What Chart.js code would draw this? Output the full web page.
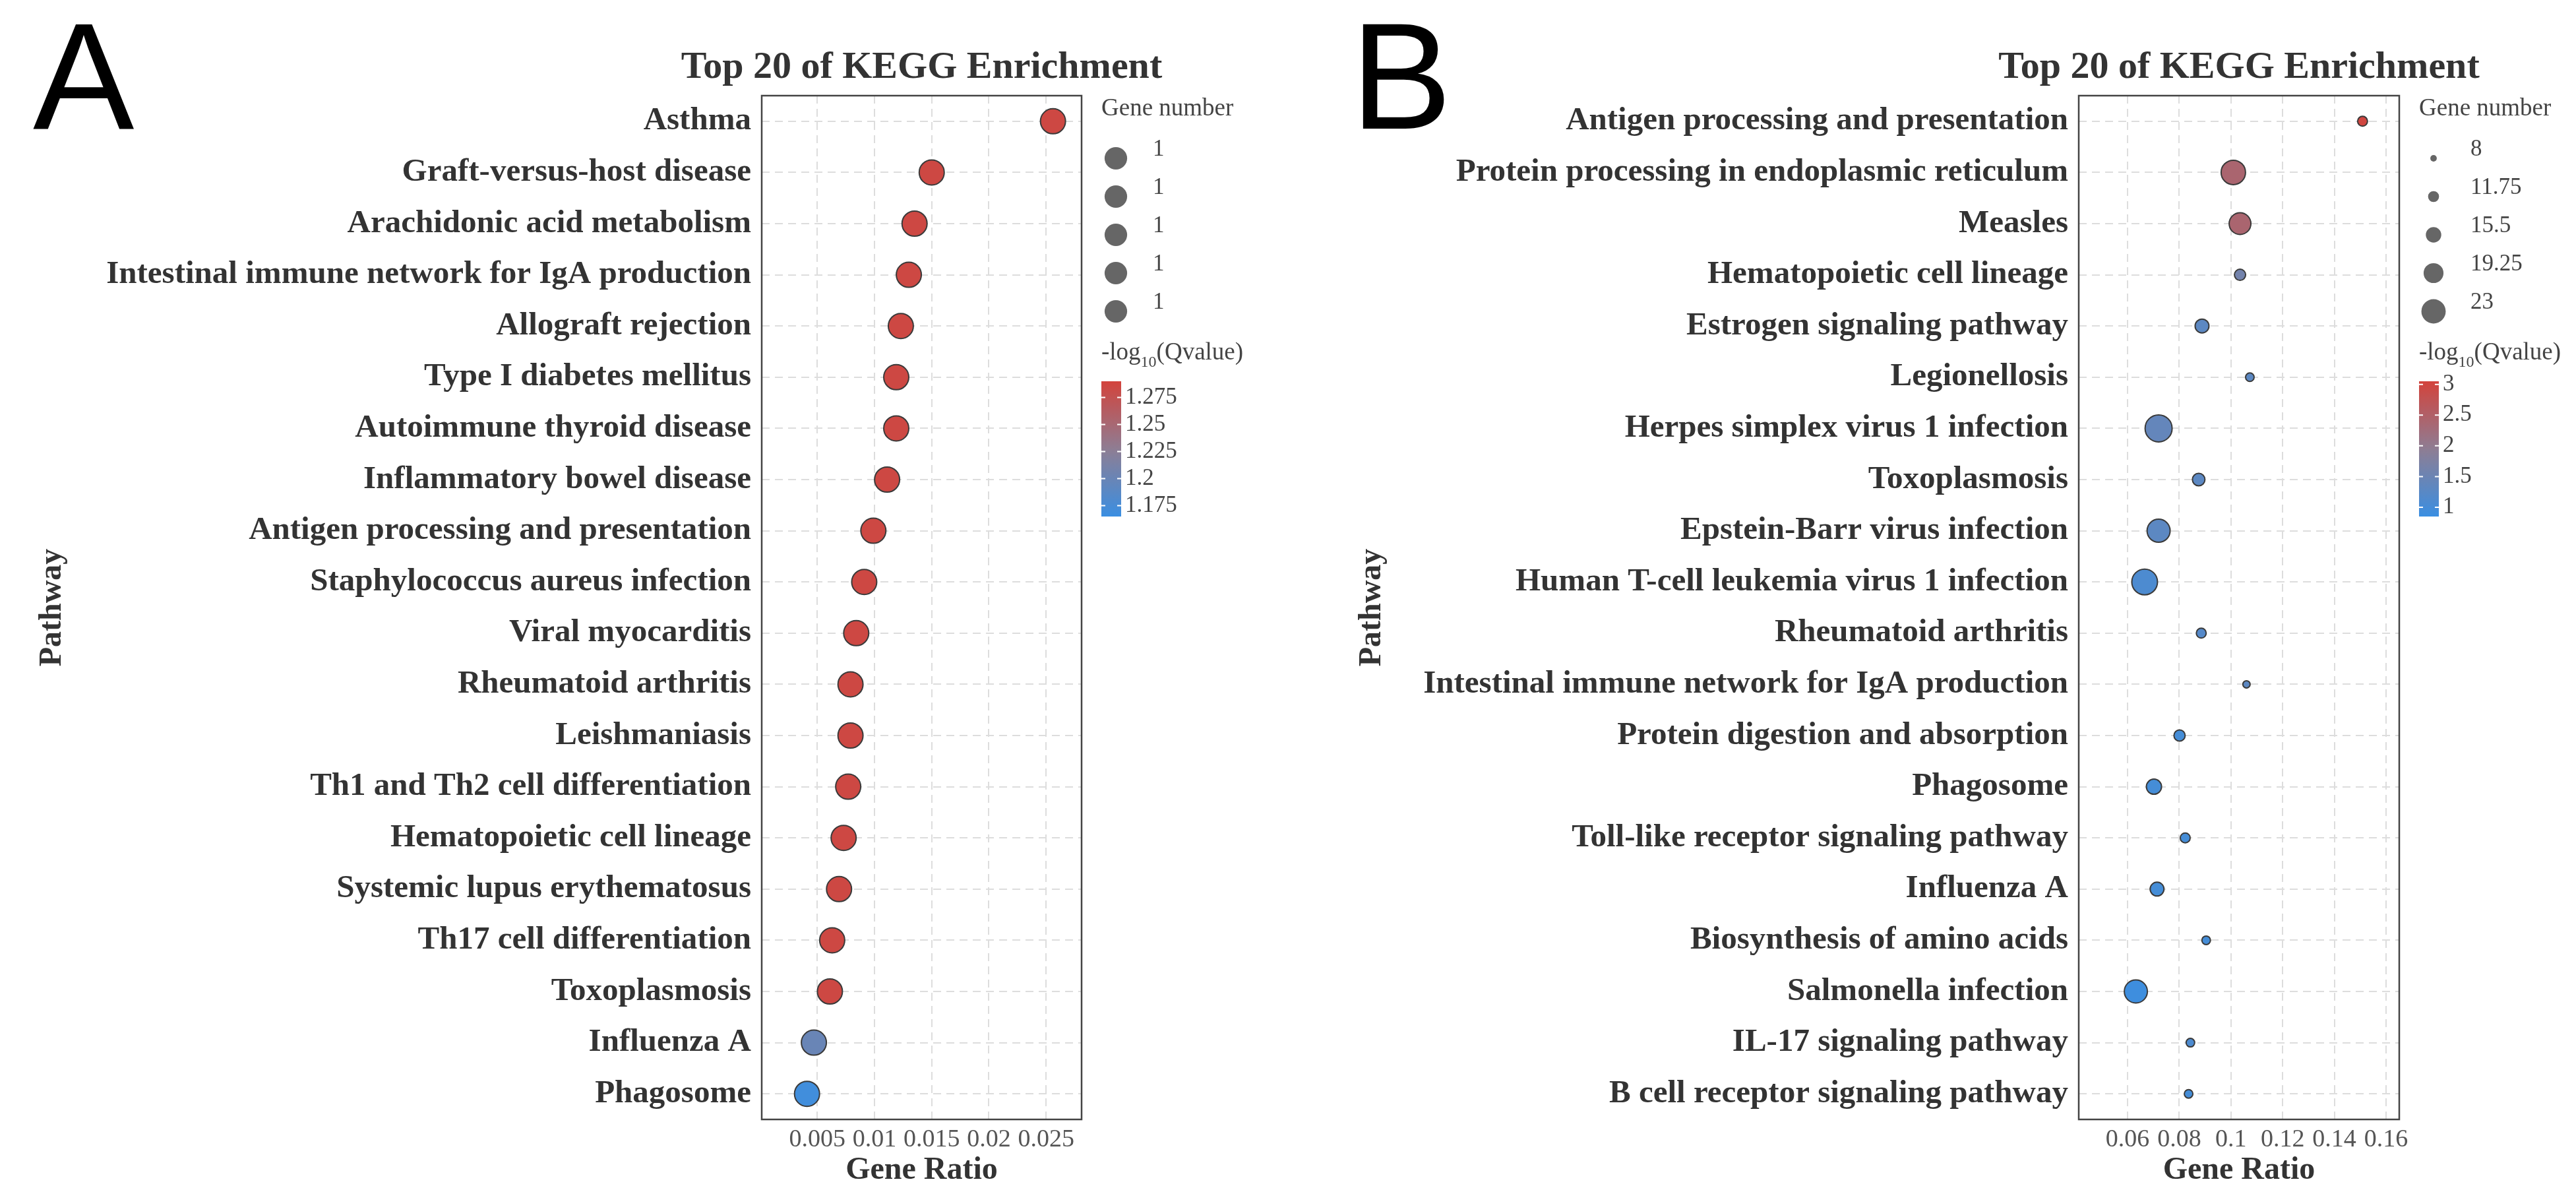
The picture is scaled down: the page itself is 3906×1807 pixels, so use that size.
<!DOCTYPE html>
<html>
<head>
<meta charset="utf-8">
<script src="https://cdn.jsdelivr.net/npm/chart.js@4.4.1/dist/chart.umd.min.js"></script>
<style>
  body { margin: 0; background: #fff; }
  .panel { position: absolute; top: 0; width: 1953px; height: 1807px; }
</style>
</head>
<body>
<div class="panel" style="left:0"><canvas id="chartA"></canvas></div>
<div class="panel" style="left:1953px"><canvas id="chartB"></canvas></div>
<script>
// Panel A data
const pathwaysA = ['Asthma', 'Graft-versus-host disease', 'Arachidonic acid metabolism',
  'Intestinal immune network for IgA production', 'Allograft rejection', 'Type I diabetes mellitus',
  'Autoimmune thyroid disease', 'Inflammatory bowel disease', 'Antigen processing and presentation',
  'Staphylococcus aureus infection', 'Viral myocarditis', 'Rheumatoid arthritis', 'Leishmaniasis',
  'Th1 and Th2 cell differentiation', 'Hematopoietic cell lineage', 'Systemic lupus erythematosus',
  'Th17 cell differentiation', 'Toxoplasmosis', 'Influenza A', 'Phagosome'];
const ratioA = [0.0256, 0.0150, 0.0135, 0.0130, 0.0123, 0.0119, 0.0119, 0.0111, 0.0099, 0.0091,
  0.0084, 0.0079, 0.0079, 0.0077, 0.0073, 0.0069, 0.0063, 0.0061, 0.0047, 0.0041];
const qvalA = [1.285, 1.285, 1.285, 1.285, 1.285, 1.285, 1.285, 1.285, 1.285, 1.285,
  1.285, 1.285, 1.285, 1.285, 1.285, 1.285, 1.285, 1.285, 1.2, 1.17];
const countA = [1, 1, 1, 1, 1, 1, 1, 1, 1, 1, 1, 1, 1, 1, 1, 1, 1, 1, 1, 1];
const ticksA = [0.005, 0.01, 0.015, 0.02, 0.025];
const sizeLegendA = [1, 1, 1, 1, 1];
const colorTicksA = [1.275, 1.25, 1.225, 1.2, 1.175];

// Panel B data
const pathwaysB = ['Antigen processing and presentation', 'Protein processing in endoplasmic reticulum',
  'Measles', 'Hematopoietic cell lineage', 'Estrogen signaling pathway', 'Legionellosis',
  'Herpes simplex virus 1 infection', 'Toxoplasmosis', 'Epstein-Barr virus infection',
  'Human T-cell leukemia virus 1 infection', 'Rheumatoid arthritis',
  'Intestinal immune network for IgA production', 'Protein digestion and absorption', 'Phagosome',
  'Toll-like receptor signaling pathway', 'Influenza A', 'Biosynthesis of amino acids',
  'Salmonella infection', 'IL-17 signaling pathway', 'B cell receptor signaling pathway'];
const ratioB = [0.1509, 0.1009, 0.1035, 0.1035, 0.0888, 0.1073, 0.0720, 0.0875, 0.0720, 0.0666,
  0.0885, 0.1060, 0.0801, 0.0702, 0.0823, 0.0714, 0.0904, 0.0632, 0.0843, 0.0836];
const qvalB = [3.0, 2.4, 2.4, 1.6, 1.3, 1.3, 1.4, 1.3, 1.3, 1.1,
  1.2, 1.3, 1.0, 1.0, 1.0, 1.0, 1.0, 0.9, 1.1, 1.0];
const countB = [10, 21, 19, 11, 13, 9, 23, 12, 20, 22, 10, 8, 11, 14, 10, 13, 9, 20, 9, 9];
const ticksB = [0.06, 0.08, 0.1, 0.12, 0.14, 0.16];
const sizeLegendB = [8, 11.75, 15.5, 19.25, 23];
const colorTicksB = [3, 2.5, 2, 1.5, 1];

const SERIF = '"Liberation Serif", "DejaVu Serif", serif';
const STOPS = [[58, 143, 226], [142, 125, 147], [211, 67, 60]];

function colorFor(t) {
  t = Math.max(0, Math.min(1, t));
  const seg = t < 0.5 ? 0 : 1;
  const f = t < 0.5 ? t / 0.5 : (t - 0.5) / 0.5;
  const a = STOPS[seg], b = STOPS[seg + 1];
  const c = a.map((v, i) => Math.round(v + (b[i] - v) * f));
  return `rgb(${c[0]},${c[1]},${c[2]})`;
}

// custom drawing: panel letter, title, y title, the two legends
const extras = {
  id: 'extras',
  afterDraw(chart, args, o) {
    const ctx = chart.ctx, area = chart.chartArea;
    ctx.save();
    ctx.fillStyle = '#000';
    ctx.font = '230px "Liberation Sans", Arial, sans-serif';
    ctx.textAlign = 'left';
    ctx.textBaseline = 'alphabetic';
    ctx.fillText(o.letter, o.letterX, 195);

    ctx.fillStyle = '#333';
    ctx.font = 'bold 58px ' + SERIF;
    ctx.textAlign = 'center';
    ctx.fillText('Top 20 of KEGG Enrichment', (area.left + area.right) / 2, 118);

    ctx.save();
    ctx.translate(o.pathX, (area.top + area.bottom) / 2);
    ctx.rotate(-Math.PI / 2);
    ctx.font = 'bold 48px ' + SERIF;
    ctx.fillText('Pathway', 0, 0);
    ctx.restore();

    // plot border
    ctx.strokeStyle = '#444';
    ctx.lineWidth = 2.5;
    ctx.strokeRect(area.left, area.top, area.right - area.left, area.bottom - area.top);

    const lx = area.right + 30;
    ctx.textAlign = 'left';
    ctx.fillStyle = '#444';
    ctx.font = '37px ' + SERIF;
    ctx.fillText('Gene number', lx, 175);
    o.sizes.forEach((s, i) => {
      const y = 240 + i * 58;
      ctx.beginPath();
      ctx.arc(lx + 22, y, o.radius(s) * 0.9, 0, Math.PI * 2);
      ctx.fillStyle = '#666';
      ctx.fill();
      ctx.fillStyle = '#444';
      ctx.font = '35px ' + SERIF;
      ctx.fillText(String(s), lx + 78, y - 4);
    });

    // colour bar
    ctx.font = '37px ' + SERIF;
    ctx.fillText('-log', lx, 545);
    const w = ctx.measureText('-log').width;
    ctx.font = '24px ' + SERIF;
    ctx.fillText('10', lx + w, 556);
    const w2 = ctx.measureText('10').width;
    ctx.font = '37px ' + SERIF;
    ctx.fillText('(Qvalue)', lx + w + w2, 545);

    const bx = lx, bw = 30, by = 578, bh = 205;
    const grad = ctx.createLinearGradient(0, by + bh, 0, by);
    for (let i = 0; i <= 10; i++) grad.addColorStop(i / 10, colorFor(i / 10));
    ctx.fillStyle = grad;
    ctx.fillRect(bx, by, bw, bh);
    ctx.font = '35px ' + SERIF;
    ctx.textBaseline = 'middle';
    o.colorTicks.forEach(v => {
      const t = (v - o.qmin) / (o.qmax - o.qmin);
      const y = by + bh - t * bh;
      ctx.strokeStyle = '#fff';
      ctx.lineWidth = 2;
      ctx.beginPath();
      ctx.moveTo(bx, y); ctx.lineTo(bx + 6, y);
      ctx.moveTo(bx + bw - 6, y); ctx.lineTo(bx + bw, y);
      ctx.stroke();
      ctx.fillStyle = '#444';
      ctx.fillText(String(v), bx + bw + 6, y);
    });
    ctx.restore();
  }
};

function makeChart(id, labels, ratios, qvals, counts, ticks, xmin, xmax, opts) {
  const t = q => (q - opts.qmin) / (opts.qmax - opts.qmin);
  const data = labels.map((l, i) => ({ x: ratios[i], y: l }));
  new Chart(document.getElementById(id), {
    type: 'scatter',
    data: {
      datasets: [{
        data: data,
        pointRadius: counts.map(c => opts.radius(c)),
        pointHoverRadius: counts.map(c => opts.radius(c)),
        pointBackgroundColor: qvals.map(q => colorFor(t(q))),
        pointBorderColor: '#3a3a3a',
        pointBorderWidth: 2
      }]
    },
    options: {
      responsive: true,
      maintainAspectRatio: false,
      animation: false,
      layout: { padding: { top: 145, right: opts.padRight, left: 0, bottom: 0 } },
      plugins: { legend: { display: false }, tooltip: { enabled: false }, extras: opts },
      scales: {
        x: {
          type: 'linear', min: xmin, max: xmax,
          afterBuildTicks: s => { s.ticks = ticks.map(v => ({ value: v })); },
          afterFit: s => { s.height = 110; },
          grid: { color: '#dddddd', lineWidth: 2, drawTicks: false },
          border: { display: false, dash: [12, 8] },
          ticks: { font: { family: SERIF, size: 38 }, color: '#555', padding: 8,
                   maxRotation: 0, autoSkip: false, callback: v => String(v) },
          title: { display: true, text: 'Gene Ratio', font: { family: SERIF, size: 48, weight: 'bold' },
                   color: '#333', padding: { top: 0 } }
        },
        y: {
          type: 'category', labels: labels, offset: true,
          afterFit: s => { s.width = opts.plotLeft; },
          grid: { color: '#dddddd', lineWidth: 2, drawTicks: false },
          border: { display: false, dash: [12, 8] },
          ticks: { font: { family: SERIF, size: 49, weight: 'bold' }, color: '#333', padding: 16 }
        }
      }
    },
    plugins: [extras]
  });
}

makeChart('chartA', pathwaysA, ratioA, qvalA, countA, ticksA, 0.00014, 0.0281, {
  letter: 'A', letterX: 50, pathX: 92, plotLeft: 1155, padRight: 313,
  qmin: 1.165, qmax: 1.29, sizes: sizeLegendA, colorTicks: colorTicksA,
  radius: () => 19
});

makeChart('chartB', pathwaysB, ratioB, qvalB, countB, ticksB, 0.0411, 0.1651, {
  letter: 'B', letterX: 95, pathX: 140, plotLeft: 1199, padRight: 268,
  qmin: 0.85, qmax: 3.05, sizes: sizeLegendB, colorTicks: colorTicksB,
  radius: n => 5.5 + (n - 8) * 15 / 15
});
</script>
</body>
</html>
